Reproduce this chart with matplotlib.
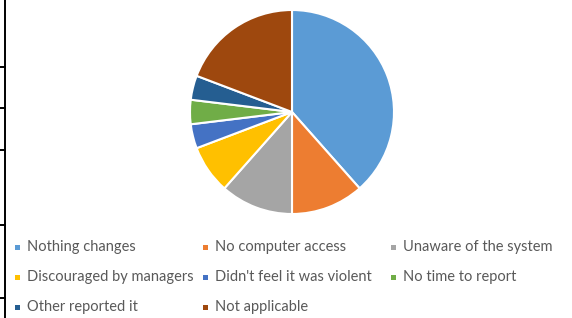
import matplotlib
matplotlib.use("Agg")
import matplotlib.pyplot as plt
from matplotlib.patches import Rectangle
from matplotlib.lines import Line2D

labels = ["Nothing changes", "No computer access", "Unaware of the system",
          "Discouraged by managers", "Didn't feel it was violent", "No time to report",
          "Other reported it", "Not applicable"]
counts = [10, 3, 3, 2, 1, 1, 1, 5]
colors = ["#5B9BD5", "#ED7D31", "#A5A5A5", "#FFC000",
          "#4472C4", "#70AD47", "#255E91", "#9E480E"]

W, H = 572, 318
fig = plt.figure(figsize=(W / 100, H / 100), dpi=100)

# pie
cx, cy, r = 292, 112, 102
ax = fig.add_axes([(cx - r) / W, (H - cy - r) / H, 2 * r / W, 2 * r / H])
ax.pie(counts, colors=colors, startangle=90, counterclock=False, radius=1,
       wedgeprops=dict(edgecolor="white", linewidth=1.5))
ax.set_xlim(-1, 1)
ax.set_ylim(-1, 1)
ax.axis("off")

# legend, laid out row by row like Excel
col_x = [17, 205, 393]
row_y = [247, 277, 307]
for i, (lab, c) in enumerate(zip(labels, colors)):
    x = col_x[i % 3]
    y = row_y[i // 3]
    fig.add_artist(Rectangle(((x - 2.5) / W, (H - y - 2.5) / H), 5 / W, 5 / H,
                             transform=fig.transFigure, facecolor=c, edgecolor="none"))
    fig.text((x + 10) / W, (H - y) / H, lab, fontsize=10.5, color="#595959",
             family="Lato", va="center", ha="left")

# table border on the left edge
fig.add_artist(Line2D([5 / W, 5 / W], [0, 1], transform=fig.transFigure,
                      color="black", linewidth=1.4))
for yy in [67, 108, 150, 225, 298]:
    fig.add_artist(Line2D([0, 5 / W], [(H - yy) / H, (H - yy) / H],
                          transform=fig.transFigure, color="black", linewidth=1.4))

fig.savefig("out.png", dpi=100)
